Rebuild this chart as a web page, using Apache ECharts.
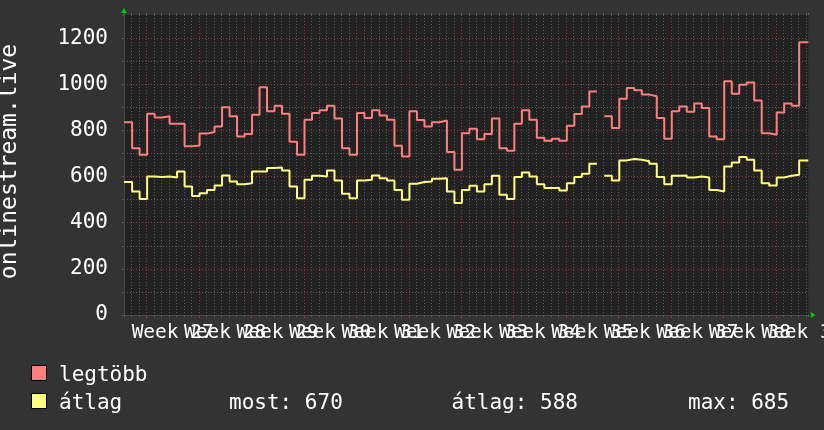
<!DOCTYPE html>
<html>
<head>
<meta charset="utf-8">
<script src="https://cdn.jsdelivr.net/npm/echarts@6/dist/echarts.min.js"></script>
<style>
html,body{margin:0;padding:0;background:#333333;}
#c{width:824px;height:430px;}
</style>
</head>
<body>
<div id="c"></div>
<script>
// ---- data ----
const weekNumbers = [27, 28, 29, 30, 31, 32, 33, 34, 35, 36, 37, 38, 39];
const seriesNames = ['legtöbb', 'átlag'];
const yAxisTitle = 'onlinestream.live';
// daily values, first day = Friday before week 27
const maxValues = [
  835, 723, 694, 872, 856, 861, 829, 829, 731, 735,
  786, 793, 817, 900, 861, 774, 784, 868, 987, 883,
  907, 872, 751, 694, 846, 875, 887, 907, 851, 723,
  694, 875, 854, 887, 864, 846, 733, 687, 883, 845,
  817, 835, 843, 706, 629, 788, 807, 762, 784, 851,
  723, 712, 829, 887, 846, 768, 755, 764, 755, 820,
  871, 904, 969, null, 861, 810, 937, 984, 974, 955,
  948, 854, 764, 883, 904, 881, 916, 897, 774, 762,
  1013, 959, 998, 1008, 930, 788, 781, 878, 916, 907, 1182
];
const avgValues = [
  576, 535, 503, 600, 598, 600, 596, 622, 557, 516,
  528, 542, 561, 605, 579, 567, 571, 622, 622, 637,
  639, 626, 557, 506, 586, 603, 600, 626, 583, 525,
  506, 583, 586, 605, 593, 583, 542, 499, 569, 576,
  579, 590, 593, 535, 485, 542, 560, 535, 567, 603,
  521, 503, 598, 618, 600, 567, 550, 550, 540, 571,
  598, 612, 655, null, 603, 583, 670, 676, 673, 666,
  655, 598, 567, 603, 605, 596, 600, 596, 542, 535,
  644, 661, 685, 673, 626, 571, 561, 596, 603, 608, 670
];
const statNames = ['most', 'átlag', 'max'];
const statValues = [670, 588, 685];

// ---- axis settings (days relative to Monday of first week) ----
const X_MIN = -3, X_MAX = 88.3;
const FIRST_DAY = -3;
const STEP_OFFSET = 2 / 24;  // day boundaries at 02:00 local
const Y_MIN = 0, Y_MAX = 1300;

const weekStarts = weekNumbers.map((w, k) => 7 * k);
const labelPositions = weekNumbers.map((w, k) => 7 * k + 3.5);
// labels split over two axes so that none of them is auto-hidden
const labelPosEven = labelPositions.filter((p, k) => k % 2 === 0);
const labelPosOdd = labelPositions.filter((p, k) => k % 2 === 1);

function stepData(vals) {
  const out = [];
  vals.forEach((v, i) => {
    let s = FIRST_DAY + i + STEP_OFFSET;
    let e = s + 1;
    if (i === 0) s = X_MIN;
    if (i === vals.length - 1) e = X_MAX;
    if (v == null) {
      out.push([s, null]);
    } else {
      out.push([s, v], [e, v]);
    }
  });
  return out;
}

const FONT = '"DejaVu Sans Mono", monospace';
const GRAY_GRID = '#5a5a5a';
const RED_GRID = '#8a3c3c';
const AXIS_COL = '#4a4a4a';
const ARROW_COL = '#00cc00';
const RED = '#ff7f7f';
const YELLOW = '#ffff7f';

function weekLabel(v) {
  const k = Math.round((v - 3.5) / 7);
  return 'Week ' + weekNumbers[k];
}
function labelAxis(positions) {
  return {
    type: 'value', min: X_MIN, max: X_MAX, position: 'bottom',
    axisLine: {show: false, onZero: false},
    axisTick: {show: false},
    splitLine: {show: false},
    axisLabel: {
      show: true, customValues: positions, margin: 8, hideOverlap: false,
      showMinLabel: true, showMaxLabel: true,
      color: '#ffffff', fontFamily: FONT, fontSize: 19.5,
      formatter: weekLabel
    }
  };
}

const chart = echarts.init(document.getElementById('c'), null, {renderer: 'canvas'});

const option = {
  backgroundColor: '#333333',
  animation: false,
  grid: {
    left: 124, right: 15.7, top: 15, bottom: 115,
    containLabel: false, outerBoundsMode: 'none',
    show: true, backgroundColor: '#222222', borderWidth: 0
  },
  xAxis: [
    {
      type: 'value', min: X_MIN, max: X_MAX, interval: 1, position: 'bottom',
      axisLine: {show: true, onZero: false, lineStyle: {color: AXIS_COL, width: 1}},
      axisTick: {show: true, length: 2, lineStyle: {color: GRAY_GRID}},
      axisLabel: {show: false},
      splitLine: {show: true, showMinLine: false, showMaxLine: false,
        lineStyle: {color: GRAY_GRID, width: 1, type: [1, 2]}}
    },
    {
      type: 'value', min: X_MIN, max: X_MAX, position: 'bottom',
      axisLine: {show: true, onZero: false, symbol: ['none', 'triangle'], symbolSize: [6, 5], symbolOffset: [0, 5],
        lineStyle: {color: ARROW_COL, width: 0}},
      axisTick: {show: true, length: 3, customValues: weekStarts, lineStyle: {color: RED_GRID}},
      splitLine: {show: true, customValues: weekStarts,
        lineStyle: {color: RED_GRID, width: 1, type: [1, 2]}},
      axisLabel: {show: false}
    },
    {
      type: 'value', min: X_MIN, max: X_MAX, interval: 1, position: 'top',
      axisLine: {show: false, onZero: false},
      axisTick: {show: true, length: 2, lineStyle: {color: GRAY_GRID}},
      axisLabel: {show: false},
      splitLine: {show: false}
    },
    labelAxis(labelPosEven),
    labelAxis(labelPosOdd)
  ],
  yAxis: [
    {
      type: 'value', min: Y_MIN, max: Y_MAX, interval: 100, position: 'left',
      axisLine: {show: true, onZero: false, lineStyle: {color: AXIS_COL, width: 1}},
      axisTick: {show: true, length: 2, lineStyle: {color: GRAY_GRID}},
      axisLabel: {show: false},
      splitLine: {show: true, showMinLine: false, showMaxLine: false,
        lineStyle: {color: GRAY_GRID, width: 1, type: [1, 2]}}
    },
    {
      type: 'value', min: Y_MIN, max: Y_MAX, interval: 200, position: 'left',
      axisLine: {show: true, onZero: false, symbol: ['none', 'triangle'], symbolSize: [6, 5], symbolOffset: [0, 4.5],
        lineStyle: {color: ARROW_COL, width: 0}},
      axisTick: {show: false},
      splitLine: {show: true, showMinLine: false, showMaxLine: false,
        lineStyle: {color: RED_GRID, width: 1, type: [1, 2]}},
      axisLabel: {
        show: true, margin: 16, color: '#ffffff', fontFamily: FONT, fontSize: 21,
        formatter: function (v) { return v % 200 === 0 ? String(v) : ''; }
      }
    }
  ],
  series: [
    {
      name: seriesNames[0], type: 'line', xAxisIndex: 0, yAxisIndex: 0,
      data: stepData(maxValues), showSymbol: false, symbol: 'none',
      connectNulls: false, lineStyle: {color: RED, width: 2}, itemStyle: {color: RED}, z: 5
    },
    {
      name: seriesNames[1], type: 'line', xAxisIndex: 0, yAxisIndex: 0,
      data: stepData(avgValues), showSymbol: false, symbol: 'none',
      connectNulls: false, lineStyle: {color: YELLOW, width: 2}, itemStyle: {color: YELLOW}, z: 5
    }
  ],
  graphic: [
    {
      type: 'text', x: 10.5, y: 161.5, rotation: Math.PI / 2,
      style: {text: yAxisTitle, fill: '#ffffff', font: '23px ' + FONT, textAlign: 'center', textVerticalAlign: 'middle'}
    },
    {type: 'rect', shape: {x: 31.5, y: 365.5, width: 15, height: 15}, style: {fill: RED, stroke: '#000000', lineWidth: 1}},
    {type: 'rect', shape: {x: 31.5, y: 393.5, width: 15, height: 15}, style: {fill: YELLOW, stroke: '#000000', lineWidth: 1}},
    {type: 'text', x: 59, y: 375.5, style: {text: seriesNames[0], fill: '#ffffff', font: '21px ' + FONT, textVerticalAlign: 'middle'}},
    {type: 'text', x: 59, y: 404, style: {text: seriesNames[1], fill: '#ffffff', font: '21px ' + FONT, textVerticalAlign: 'middle'}},
    {type: 'text', x: 229, y: 404, style: {text: statNames[0] + ': ' + statValues[0], fill: '#ffffff', font: '21px ' + FONT, textVerticalAlign: 'middle'}},
    {type: 'text', x: 451.5, y: 404, style: {text: statNames[1] + ': ' + statValues[1], fill: '#ffffff', font: '21px ' + FONT, textVerticalAlign: 'middle'}},
    {type: 'text', x: 688, y: 404, style: {text: statNames[2] + ': ' + statValues[2], fill: '#ffffff', font: '21px ' + FONT, textVerticalAlign: 'middle'}}
  ]
};
chart.setOption(option);
</script>
</body>
</html>
